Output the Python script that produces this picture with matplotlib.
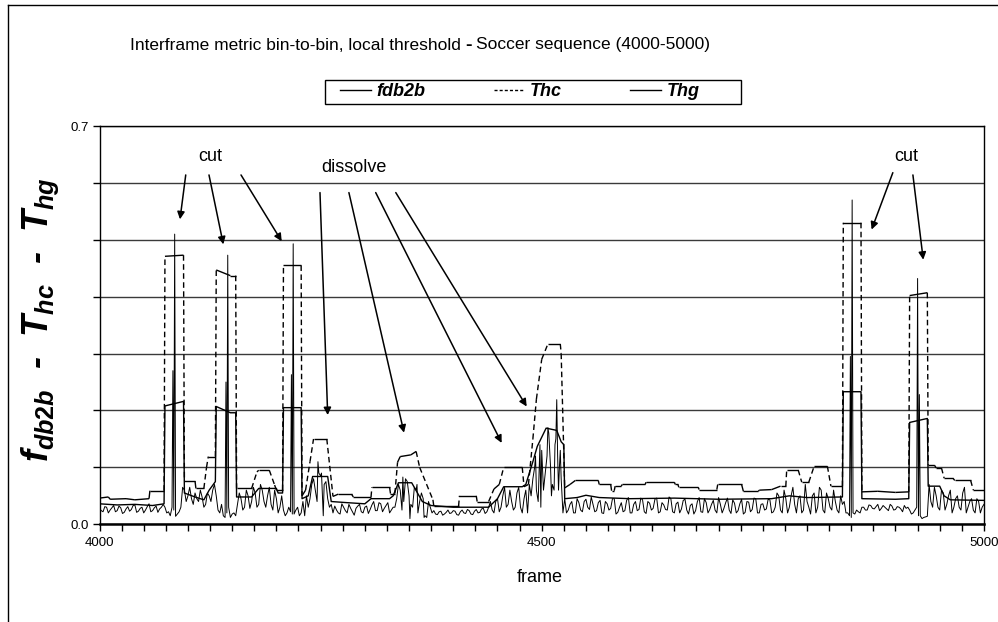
import numpy as np
import matplotlib
matplotlib.use("Agg")
import matplotlib.pyplot as plt
from matplotlib.collections import LineCollection
from matplotlib.lines import Line2D
from matplotlib.patches import Rectangle
from matplotlib.font_manager import FontProperties
from matplotlib.ticker import FixedLocator, MultipleLocator, FuncFormatter

plt.rcParams['font.family'] = ['Liberation Sans', 'DejaVu Sans']
plt.rcParams['mathtext.fontset'] = 'custom'
plt.rcParams['mathtext.it'] = 'Liberation Sans:bold:italic'
plt.rcParams['mathtext.rm'] = 'Liberation Sans:bold'
plt.rcParams['mathtext.bf'] = 'Liberation Sans:bold'

# ---- data ----
# fdb2b on frames 4000, 4004, ... 5000
fdb_frames = np.arange(4000, 5001, 4)
fdb_base = [
    # 4000-4072
    0.028, 0.022, 0.030, 0.025, 0.033, 0.024, 0.029, 0.021, 0.031, 0.026,
    0.034, 0.023, 0.030, 0.025, 0.036, 0.024, 0.032, 0.027, 0.035,
    # 4076-4092 (cut 1)
    0.020, 0.015, 0.025, 0.018, 0.030,
    # 4096-4128
    0.060, 0.050, 0.045, 0.055, 0.040, 0.048, 0.035, 0.050, 0.060,
    # 4132-4152 (cut 2)
    0.050, 0.020, 0.015, 0.020, 0.012, 0.020,
    # 4156-4204
    0.035, 0.045, 0.030, 0.050, 0.040, 0.055, 0.035, 0.060, 0.030, 0.065,
    0.025, 0.045, 0.030,
    # 4208-4228 (cut 3)
    0.025, 0.020, 0.022, 0.018, 0.030, 0.020,
    # 4232-4264 (dissolve 1)
    0.015, 0.030, 0.070, 0.060, 0.090, 0.050, 0.075, 0.030, 0.020,
    # 4268-4332
    0.025, 0.018, 0.030, 0.020, 0.028, 0.016, 0.032, 0.022, 0.030, 0.019,
    0.034, 0.024, 0.038, 0.022, 0.033, 0.020, 0.030,
    # 4336-4376 (dissolve 2)
    0.045, 0.060, 0.040, 0.075, 0.035, 0.065, 0.020, 0.055, 0.015, 0.040,
    0.020,
    # 4380-4440
    0.018, 0.022, 0.016, 0.021, 0.019, 0.024, 0.017, 0.022, 0.020, 0.026,
    0.018, 0.023, 0.020, 0.027, 0.019, 0.030,
    # 4444-4484
    0.025, 0.040, 0.022, 0.050, 0.030, 0.060, 0.025, 0.055, 0.030, 0.045,
    0.020,
    # 4488-4524 (dissolve 4)
    0.050, 0.100, 0.040, 0.130, 0.090, 0.160, 0.070, 0.150, 0.100, 0.020,
    # 4528-4760
    0.020, 0.035, 0.020, 0.045, 0.025, 0.040, 0.030, 0.048, 0.022, 0.038,
    0.020, 0.040, 0.025, 0.045, 0.018, 0.030, 0.022, 0.042, 0.020, 0.035,
    0.024, 0.046, 0.022, 0.040, 0.025, 0.044, 0.020, 0.038, 0.026, 0.048,
    0.022, 0.036, 0.020, 0.042, 0.025, 0.033, 0.018, 0.040, 0.022, 0.045,
    0.020, 0.035, 0.025, 0.047, 0.020, 0.038, 0.025, 0.043, 0.020, 0.036,
    0.018, 0.040, 0.022, 0.046, 0.020, 0.035, 0.025, 0.044, 0.020,
    # 4764-4840
    0.030, 0.050, 0.020, 0.045, 0.030, 0.065, 0.020, 0.050, 0.025, 0.040,
    0.018, 0.055, 0.030, 0.060, 0.020, 0.045, 0.025, 0.040, 0.020, 0.035,
    # 4844-4860 (cut 4)
    0.020, 0.015, 0.020, 0.025, 0.020,
    # 4864-4912
    0.030, 0.025, 0.033, 0.027, 0.035, 0.028, 0.030, 0.024, 0.032, 0.026,
    0.030, 0.022, 0.028,
    # 4916-4936 (cut 5)
    0.025, 0.020, 0.030, 0.015, 0.012, 0.014,
    # 4940-5000
    0.040, 0.065, 0.030, 0.060, 0.025, 0.050, 0.020, 0.045, 0.030, 0.055,
    0.020, 0.040, 0.025, 0.045, 0.020, 0.035,
]
# fdb2b on the frames in between: 4002, 4006, ... 4998
fdb_mid_frames = np.arange(4002, 5000, 4)
fdb_mid = [
    # 4002-4070
    0.024, 0.031, 0.020, 0.029, 0.022, 0.032, 0.019, 0.027, 0.023, 0.033,
    0.021, 0.028, 0.020, 0.031, 0.022, 0.029, 0.021, 0.030,
    # 4074-4094
    0.030, 0.022, 0.030, 0.014, 0.022, 0.065,
    # 4098-4130
    0.040, 0.065, 0.035, 0.045, 0.060, 0.030, 0.055, 0.040, 0.070,
    # 4134-4154
    0.025, 0.035, 0.012, 0.030, 0.018, 0.015,
    # 4158-4206
    0.055, 0.025, 0.060, 0.028, 0.065, 0.030, 0.070, 0.040, 0.050, 0.035,
    0.060, 0.020, 0.050,
    # 4210-4230
    0.015, 0.030, 0.018, 0.025, 0.015, 0.040,
    # 4234-4262
    0.050, 0.045, 0.080, 0.040, 0.085, 0.070, 0.045, 0.035,
    # 4266-4330
    0.032, 0.020, 0.036, 0.024, 0.035, 0.022, 0.028, 0.035, 0.020, 0.032,
    0.026, 0.040, 0.024, 0.036, 0.028, 0.038, 0.025,
    # 4334-4374
    0.030, 0.070, 0.025, 0.080, 0.050, 0.030, 0.060, 0.040, 0.045, 0.012,
    0.030,
    # 4378-4438
    0.024, 0.017, 0.023, 0.018, 0.025, 0.020, 0.023, 0.016, 0.025, 0.019,
    0.024, 0.017, 0.026, 0.021, 0.028, 0.022,
    # 4442-4486
    0.040, 0.020, 0.045, 0.030, 0.065, 0.035, 0.040, 0.030, 0.065, 0.020,
    0.060, 0.070,
    # 4490-4522
    0.080, 0.060, 0.140, 0.060, 0.120, 0.100, 0.060, 0.120, 0.080,
    # 4526-4762
    0.045, 0.025, 0.040, 0.020, 0.038, 0.022, 0.044, 0.026, 0.035, 0.024,
    0.042, 0.019, 0.036, 0.028, 0.045, 0.021, 0.038, 0.024, 0.047, 0.020,
    0.040, 0.026, 0.043, 0.019, 0.037, 0.028, 0.046, 0.022, 0.034, 0.025,
    0.045, 0.020, 0.039, 0.027, 0.044, 0.018, 0.036, 0.024, 0.047, 0.021,
    0.038, 0.026, 0.042, 0.020, 0.035, 0.028, 0.046, 0.019, 0.037, 0.024,
    0.044, 0.021, 0.039, 0.026, 0.045, 0.020, 0.036, 0.027, 0.043, 0.022,
    # 4766-4838
    0.055, 0.025, 0.060, 0.020, 0.050, 0.035, 0.045, 0.020, 0.070, 0.030,
    0.050, 0.020, 0.065, 0.025, 0.055, 0.030, 0.060, 0.025, 0.050,
    # 4842-4862
    0.040, 0.020, 0.012, 0.018, 0.022, 0.030,
    # 4866-4914
    0.025, 0.034, 0.028, 0.031, 0.024, 0.033, 0.027, 0.035, 0.025, 0.031,
    0.027, 0.033, 0.030,
    # 4918-4938
    0.018, 0.025, 0.015, 0.010, 0.013, 0.070,
    # 4942-4998
    0.030, 0.050, 0.025, 0.055, 0.035, 0.060, 0.030, 0.050, 0.025, 0.065,
    0.030, 0.045, 0.020, 0.040, 0.030,
]
# single-frame peaks of fdb2b
spike_frames = [4083, 4085, 4143, 4145, 4217, 4219, 4247, 4251, 4253,
                4343, 4351, 4359, 4367, 4493, 4499, 4507, 4511, 4515,
                4517, 4519, 4521, 4849, 4851, 4925, 4927]
spike_vals = [0.270, 0.510, 0.250, 0.473, 0.263, 0.493, 0.110, 0.090, 0.015,
              0.083, 0.010, 0.070, 0.012, 0.120, 0.030, 0.170, 0.050, 0.140,
              0.219, 0.060, 0.130, 0.295, 0.570, 0.432, 0.228]

# Thc (dashed threshold) breakpoints
thc_frames = [4000, 4010, 4012, 4030, 4040, 4056, 4057, 4073, 4074, 4095,
              4096, 4108, 4109, 4118, 4121, 4123, 4131, 4132, 4148, 4154,
              4155, 4172, 4178, 4180, 4192, 4198, 4200, 4207, 4208, 4228,
              4229, 4233, 4238, 4242, 4257, 4264, 4270, 4285, 4287, 4307,
              4308, 4328, 4329, 4334, 4337, 4340, 4352, 4358, 4362, 4377,
              4378, 4406, 4407, 4426, 4427, 4440, 4446, 4452, 4457, 4478,
              4480, 4485, 4490, 4494, 4500, 4507, 4521, 4522, 4526, 4532,
              4538, 4564, 4565, 4578, 4579, 4582, 4583, 4590, 4591, 4617,
              4618, 4650, 4651, 4654, 4655, 4677, 4678, 4698, 4699, 4726,
              4728, 4745, 4746, 4760, 4770, 4776, 4777, 4790, 4794, 4802,
              4808, 4823, 4827, 4840, 4841, 4861, 4862, 4880, 4900, 4915,
              4916, 4936, 4937, 4944, 4946, 4952, 4955, 4965, 4967, 4985,
              4988, 5000]
thc_vals = [0.046, 0.048, 0.044, 0.045, 0.043, 0.045, 0.059, 0.059, 0.471, 0.473,
            0.076, 0.076, 0.063, 0.063, 0.100, 0.119, 0.119, 0.447, 0.437, 0.437,
            0.063, 0.063, 0.092, 0.095, 0.095, 0.069, 0.060, 0.060, 0.455, 0.455,
            0.050, 0.060, 0.110, 0.150, 0.150, 0.049, 0.053, 0.053, 0.048, 0.048,
            0.065, 0.065, 0.054, 0.054, 0.109, 0.119, 0.122, 0.128, 0.100, 0.043,
            0.032, 0.032, 0.050, 0.050, 0.040, 0.040, 0.062, 0.070, 0.100, 0.100,
            0.066, 0.070, 0.150, 0.220, 0.290, 0.317, 0.317, 0.300, 0.064, 0.070,
            0.077, 0.077, 0.070, 0.070, 0.059, 0.059, 0.067, 0.067, 0.070, 0.070,
            0.074, 0.074, 0.070, 0.070, 0.065, 0.065, 0.061, 0.061, 0.070, 0.070,
            0.058, 0.058, 0.060, 0.061, 0.067, 0.067, 0.0955, 0.0955, 0.074, 0.074,
            0.102, 0.102, 0.067, 0.067, 0.530, 0.530, 0.057, 0.058, 0.056, 0.057,
            0.402, 0.407, 0.104, 0.104, 0.099, 0.099, 0.081, 0.081, 0.077, 0.077,
            0.060, 0.060]

# Thg (solid threshold) breakpoints
thg_frames = [4000, 4020, 4040, 4060, 4073, 4074, 4095, 4096, 4108, 4118,
              4124, 4131, 4132, 4148, 4154, 4155, 4172, 4180, 4200, 4202,
              4207, 4208, 4228, 4229, 4236, 4241, 4258, 4262, 4280, 4300,
              4307, 4328, 4332, 4338, 4353, 4365, 4375, 4400, 4440, 4450,
              4457, 4478, 4482, 4490, 4495, 4505, 4517, 4522, 4525, 4526,
              4540, 4550, 4565, 4600, 4650, 4700, 4760, 4780, 4800, 4840,
              4841, 4861, 4862, 4900, 4915, 4916, 4936, 4937, 4950, 4955,
              4962, 5000]
thg_vals = [0.036, 0.034, 0.035, 0.033, 0.036, 0.208, 0.216, 0.055, 0.048, 0.043,
            0.060, 0.075, 0.207, 0.196, 0.196, 0.048, 0.048, 0.063, 0.063, 0.055,
            0.055, 0.205, 0.205, 0.045, 0.050, 0.084, 0.084, 0.040, 0.038, 0.036,
            0.045, 0.045, 0.050, 0.073, 0.073, 0.040, 0.033, 0.030, 0.030, 0.045,
            0.066, 0.066, 0.070, 0.110, 0.137, 0.169, 0.165, 0.145, 0.140, 0.045,
            0.047, 0.051, 0.047, 0.045, 0.046, 0.044, 0.045, 0.050, 0.047, 0.048,
            0.233, 0.233, 0.045, 0.044, 0.045, 0.179, 0.186, 0.067, 0.067, 0.050,
            0.043, 0.042]

# annotations: (tail frame, tail value) -> (head frame, head value)
cut_arrows_left = [((4097.5, 0.614), (4091, 0.536)),
                   ((4123.8, 0.614), (4140, 0.492)),
                   ((4160, 0.614), (4206, 0.4975))]
dissolve_arrows = [((4249.3, 0.583), (4258, 0.192)),
                   ((4282, 0.583), (4344.3, 0.161)),
                   ((4312.3, 0.583), (4454.7, 0.143)),
                   ((4335, 0.583), (4483, 0.207))]
cut_arrows_right = [((4897, 0.618), (4873, 0.518)),
                    ((4919.7, 0.614), (4931.4, 0.465))]

# ---- figure ----
fig = plt.figure(figsize=(9.98, 6.22), dpi=100)
ax = fig.add_axes([0.0997, 0.1571, 0.8862, 0.6403])

fx = np.concatenate([fdb_frames, fdb_mid_frames, spike_frames])
fy = np.concatenate([fdb_base, fdb_mid, spike_vals])
order = np.argsort(fx, kind='stable')
ax.plot(fx[order], fy[order], color='black', lw=0.7)

ax.plot(thg_frames, thg_vals, color='black', lw=1.0)

# Thc: steep steps show the dash pattern, flat runs look solid
pts = np.column_stack([thc_frames, thc_vals])
segs = np.stack([pts[:-1], pts[1:]], axis=1)
steep = np.abs(np.diff(thc_vals)) > 0.015
styles = [(0, (4, 2.5)) if s else 'solid' for s in steep]
ax.add_collection(LineCollection(segs, colors='black', linewidths=1.0,
                                 linestyles=styles))

ax.set_xlim(4000, 5000)
ax.set_ylim(0, 0.7)
ax.xaxis.set_major_locator(FixedLocator([4000, 4500, 5000]))
ax.xaxis.set_minor_locator(MultipleLocator(25))
ax.yaxis.set_major_locator(FixedLocator(np.arange(0, 0.71, 0.1)))
ax.yaxis.set_major_formatter(FuncFormatter(
    lambda v, p: '%.1f' % v if (abs(v) < 1e-6 or abs(v - 0.7) < 1e-6) else ''))
ax.tick_params(axis='both', which='both', direction='out', length=5,
               width=1, labelsize=9.5, color='black')
ax.tick_params(axis='x', pad=4)
ax.tick_params(axis='y', pad=3)
ax.yaxis.grid(True, color='#3a3a3a', lw=1.0)
ax.set_axisbelow(True)
for side in ['left', 'right', 'top']:
    ax.spines[side].set_linewidth(1.0)
ax.spines['bottom'].set_linewidth(1.8)

arrow_kw = dict(arrowstyle='-|>', color='black', lw=1.1, mutation_scale=11,
                shrinkA=0, shrinkB=0)
for tail, head in cut_arrows_left + dissolve_arrows + cut_arrows_right:
    ax.annotate('', xy=head, xytext=tail, arrowprops=arrow_kw)
ax.text(4124.9, 0.647, 'cut', ha='center', va='center', fontsize=13)
ax.text(4287.7, 0.627, 'dissolve', ha='center', va='center', fontsize=13)
ax.text(4911.8, 0.647, 'cut', ha='center', va='center', fontsize=13)

# titles and axis labels
ty = 1 - 45 / 622
fig.text(461 / 998, ty, 'Interframe metric bin-to-bin, local threshold',
         ha='right', va='center', fontsize=12.5)
fig.text(468 / 998, ty, '-', ha='center', va='center', fontsize=14,
         fontweight='bold')
fig.text(476 / 998, ty, 'Soccer sequence (4000-5000)', ha='left',
         va='center', fontsize=12.5)
fig.text(540 / 998, 1 - 578 / 622, 'frame', ha='center', va='center',
         fontsize=13)
fig.text(40 / 998, 1 - 320 / 622, r'$f_{db2b}$  -  $T_{hc}$  -  $T_{hg}$',
         rotation=90, ha='center', va='center', fontsize=26,
         fontweight='bold', style='italic')

# legend box above the plot
fig.add_artist(Rectangle((325 / 998, 1 - 104 / 622), 416 / 998, 24 / 622,
                         transform=fig.transFigure, fill=False,
                         edgecolor='black', lw=1.0))
handles = [Line2D([], [], color='black', lw=1.0),
           Line2D([], [], color='black', lw=1.0, linestyle=(0, (2.2, 1.5))),
           Line2D([], [], color='black', lw=1.0)]
fig.legend(handles, ['fdb2b', 'Thc', 'Thg'], loc='center left',
           bbox_to_anchor=(340 / 998, 1 - 92 / 622), ncol=3, frameon=False,
           borderaxespad=0, borderpad=0, handlelength=1.7, handletextpad=0.3,
           columnspacing=3.8,
           prop=FontProperties(family='Liberation Sans', weight='bold',
                               style='italic', size=13))

# outer border of the chart area
fig.add_artist(Line2D([8 / 998, 8 / 998], [0, 1 - 5 / 622], color='black',
                      lw=1.0, transform=fig.transFigure))
fig.add_artist(Line2D([8 / 998, 1], [1 - 5 / 622, 1 - 5 / 622], color='black',
                      lw=1.0, transform=fig.transFigure))

fig.savefig('out.png', dpi=100)
